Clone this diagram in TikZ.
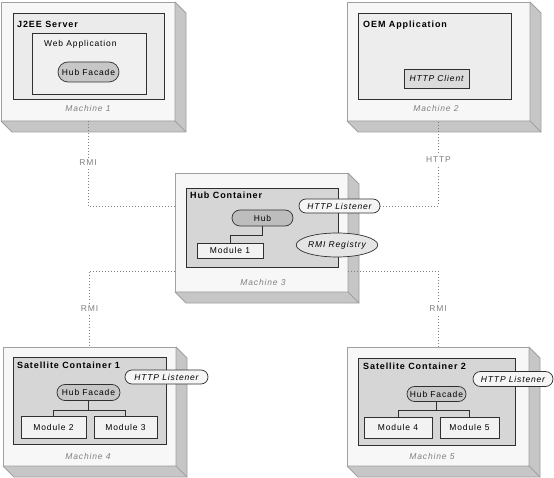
\documentclass[tikz,border=0pt]{standalone}
\usepackage{fontspec}
\setmainfont{Liberation Sans}[LetterSpace=10]
\usetikzlibrary{calc,shapes.misc,shapes.geometric}

\definecolor{facefill}{HTML}{F7F7F7}
\definecolor{edgegray}{HTML}{A0A0A0}
\definecolor{panelfill}{HTML}{C6C6C6}
\definecolor{linkgray}{HTML}{808080}
\definecolor{boxedge}{HTML}{303030}

\tikzset{
  face/.style={draw=edgegray, fill=facefill, line width=0.8pt, anchor=north west, inner sep=0pt, outer sep=0pt},
  panel/.style={draw=edgegray, fill=panelfill, line width=0.8pt, line join=bevel},
  cont/.style={draw=boxedge, line width=0.8pt, anchor=north west, inner sep=0pt, outer sep=0pt},
  modbox/.style={cont, fill=white!95!black, font=\fontsize{8.5}{10}\selectfont},
  pill/.style={rounded rectangle, draw=boxedge, line width=0.7pt, inner sep=0pt, outer sep=0pt, font=\fontsize{8.5}{10}\selectfont},
  title/.style={anchor=base west, inner sep=0pt, font=\fontsize{9}{11}\selectfont\bfseries},
  mlabel/.style={inner sep=0pt, text=linkgray, font=\fontsize{8.5}{10}\selectfont\itshape},
  link/.style={draw=linkgray, line width=0.7pt, dash pattern=on 1pt off 2pt},
  linklbl/.style={fill=white, inner sep=2pt, text=linkgray, font=\fontsize{8.5}{10}\selectfont}
}

\begin{document}
\begin{tikzpicture}[x=1pt,y=-1pt]

\useasboundingbox (0,0) rectangle (554,478);
\fill[white] (0,0) rectangle (554,478);

% machines
\node[face, minimum width=174, minimum height=119] (m1) at (1,2) {};
\node[face, minimum width=183, minimum height=119] (m2) at (347,2) {};
\node[face, minimum width=173, minimum height=119] (m3) at (175,173) {};
\node[face, minimum width=173, minimum height=119] (m4) at (3,347) {};
\node[face, minimum width=182, minimum height=119] (m5) at (347,347) {};

\foreach \m in {m1,m2,m3,m4,m5} {
  \draw[panel] (\m.north east) -- ++(11,11) |- ($(\m.south west)+(11,11)$) -- (\m.south west) -- (\m.south east) -- cycle;
  \draw[edgegray, line width=0.8pt] (\m.south east) -- ++(11,11);
}

\node[mlabel] (m1l) at (88,108) {Machine 1};
\node[mlabel] (m2l) at (436,108) {Machine 2};
\node[mlabel] (m3l) at (263,282) {Machine 3};
\node[mlabel] (m4l) at (88,456) {Machine 4};
\node[mlabel] (m5l) at (432,456) {Machine 5};

% machine 1
\node[cont, fill=white!92!black, minimum width=151, minimum height=86] (j2ee) at (13,13) {};
\node[title] (j2eet) at (17,28) {J2EE Server};
\node[cont, fill=white!94!black, minimum width=114, minimum height=61] (web) at (32,33) {};
\node[anchor=base west, inner sep=0pt, font=\fontsize{8.5}{10}\selectfont] (webt) at (44,47) {Web Application};
\node[pill, fill=white!78!black, minimum width=61, minimum height=20] (hf1) at (88.5,72) {Hub Facade};

% machine 2
\node[cont, fill=white!93!black, minimum width=153, minimum height=86] (oem) at (358,13) {};
\node[title] (oemt) at (363,28) {OEM Application};
\node[cont, fill=white!86!black, minimum width=65, minimum height=19, font=\fontsize{8.5}{10}\selectfont\itshape] (hc) at (404,69) {HTTP Client};

% machine 3
\node[cont, fill=white!84!black, minimum width=152, minimum height=79] (hubc) at (186,188) {};
\node[title] (hubct) at (190,199) {Hub Container};
\node[pill, fill=white!74!black, minimum width=61, minimum height=16] (hub) at (262.5,218) {Hub};
\node[modbox, minimum width=66, minimum height=15] (mod1) at (197,243) {Module 1};
\draw[boxedge, line width=0.7pt] (hub.south) -- ++(0,9) -| (mod1.north);
\node[pill, fill=white!96!black, minimum width=81, minimum height=14, font=\fontsize{8.5}{10}\selectfont\itshape] (hl3) at (339.5,206) {HTTP Listener};
\node[ellipse, draw=boxedge, line width=0.7pt, fill=white!90!black, inner sep=0pt, minimum width=80, minimum height=24, font=\fontsize{8.5}{10}\selectfont\itshape] (rmi) at (337,245) {RMI Registry};

% machine 4
\node[cont, fill=white!84!black, minimum width=153, minimum height=87] (sat1) at (13,357) {};
\node[title] (sat1t) at (17,368) {Satellite Container 1};
\node[pill, fill=white!78!black, minimum width=63, minimum height=16] (hf4) at (88.5,392.5) {Hub Facade};
\node[modbox, minimum width=65, minimum height=22] (mod2) at (21,416) {Module 2};
\node[modbox, minimum width=63, minimum height=22] (mod3) at (94,416) {Module 3};
\draw[boxedge, line width=0.7pt] (hf4.south) -- ++(0,10) -| (mod2.north);
\draw[boxedge, line width=0.7pt] (hf4.south) ++(0,10) -| (mod3.north);
\node[pill, fill=white!96!black, minimum width=83, minimum height=14, font=\fontsize{8.5}{10}\selectfont\itshape] (hl4) at (166.5,377) {HTTP Listener};

% machine 5
\node[cont, fill=white!84!black, minimum width=157, minimum height=87] (sat2) at (358,358) {};
\node[title] (sat2t) at (363,369) {Satellite Container 2};
\node[pill, fill=white!78!black, minimum width=59, minimum height=15] (hf5) at (436.5,394) {Hub Facade};
\node[modbox, minimum width=68, minimum height=21] (mod4) at (364,417) {Module 4};
\node[modbox, minimum width=59, minimum height=21] (mod5) at (440,417) {Module 5};
\draw[boxedge, line width=0.7pt] (hf5.south) -- ++(0,9) -| (mod4.north);
\draw[boxedge, line width=0.7pt] (hf5.south) ++(0,9) -| (mod5.north);
\node[pill, fill=white!96!black, minimum width=80, minimum height=15, font=\fontsize{8.5}{10}\selectfont\itshape] (hl5) at (513,379) {HTTP Listener};

% links
\draw[link] (m1.south) |- (m3.west |- hl3.east);
\draw[link] (hl3.east) -| (m2.south);
\draw[link] ($(m3.south west)+(0,-21)$) -| (m4.north);
\draw[link] ($(m3.south east)+(0,-21)$) -| (m5.north);
\node[linklbl] (l1) at (88,163) {RMI};
\node[linklbl] (l2) at (438.5,160) {HTTP};
\node[linklbl] (l3) at (89.5,309) {RMI};
\node[linklbl] (l4) at (438,309) {RMI};

\end{tikzpicture}
\end{document}
